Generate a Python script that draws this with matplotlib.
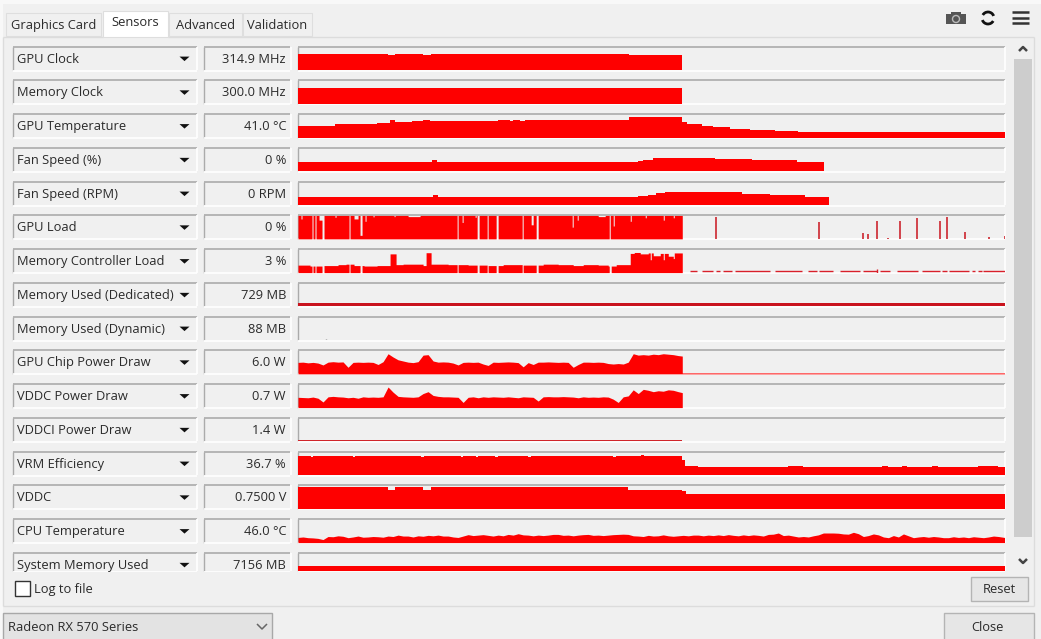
import numpy as np
import matplotlib
matplotlib.use("Agg")
import matplotlib.pyplot as plt
from matplotlib.patches import Rectangle, Polygon, Arc

plt.rcParams['font.family'] = ['Open Sans', 'DejaVu Sans']

# ---------- sensor names and readings ----------
sensor_names = ["GPU Clock", "Memory Clock", "GPU Temperature", "Fan Speed (%)", "Fan Speed (RPM)",
                "GPU Load", "Memory Controller Load", "Memory Used (Dedicated)", "Memory Used (Dynamic)",
                "GPU Chip Power Draw", "VDDC Power Draw", "VDDCI Power Draw", "VRM Efficiency", "VDDC",
                "CPU Temperature", "System Memory Used"]
sensor_values = ["314.9 MHz", "300.0 MHz", "41.0 °C", "0 %", "0 RPM", "0 %", "3 %", "729 MB", "88 MB",
                 "6.0 W", "0.7 W", "1.4 W", "36.7 %", "0.7500 V", "46.0 °C", "7156 MB"]
tab_names = ["Graphics Card", "Sensors", "Advanced", "Validation"]
device_name = "Radeon RX 570 Series"

# ---------- history series: time samples (t) and % of graph height (v) ----------
clock_t = [0, 90, 97, 125, 133, 331, 384]
clock_v = [68, 64, 68, 64, 68, 64, 64]
memclk_t = [0, 384]
memclk_v = [68, 68]
temp_t = [0, 37, 79, 92, 97, 114, 125, 132, 200, 212, 215, 222, 227, 331, 384, 389, 404, 415, 432, 452, 477, 500, 706]
temp_v = [49, 57, 64, 75, 66, 70, 76, 70, 76, 70, 76, 70, 76, 86, 66, 59, 51, 44, 38, 34, 28, 22, 22]
fanpct_t = [0, 134, 139, 340, 345, 355, 365, 417, 454, 499, 526]
fanpct_v = [40, 47, 40, 44, 48, 55, 58, 52, 48, 40, 40]
fanrpm_t = [0, 135, 140, 340, 350, 358, 367, 444, 472, 507, 531]
fanrpm_v = [35, 43, 35, 38, 43, 50, 56, 49, 42, 35, 35]
load_base_t = [0, 384]
load_base_v = [100, 100]
load_dip_start = [3, 14, 17, 21, 24, 37, 51, 56, 62, 67, 75, 96, 110, 159, 164, 177, 179, 189, 198, 224, 233, 238, 274, 279, 300, 311, 315, 332, 347, 365, 375]
load_dip_end = [4, 15, 18, 24, 26, 38, 52, 60, 64, 68, 76, 97, 122, 160, 165, 178, 181, 190, 200, 225, 235, 240, 275, 280, 307, 312, 316, 333, 348, 366, 376]
load_dip_v = [85, 0, 0, 80, 0, 92, 0, 85, 15, 75, 94, 95, 95, 0, 70, 92, 0, 0, 0, 0, 60, 0, 50, 80, 95, 0, 55, 75, 90, 80, 90]
load_spike_t = [418, 521, 565, 570, 579, 590, 602, 619, 642, 649, 667, 691, 706]
load_spike_v = [95, 72, 25, 22, 75, 5, 75, 90, 75, 95, 28, 6, 12]
mc_t = [0, 12, 26, 40, 48, 56, 66, 79, 92, 98, 105, 125, 128, 133, 150, 170, 190, 205, 225, 245, 260, 275, 285, 300, 310, 318, 332, 336, 342, 350, 355, 362, 370, 376, 384]
mc_v = [32, 28, 30, 34, 36, 30, 28, 30, 80, 34, 36, 30, 85, 36, 34, 32, 30, 34, 32, 36, 34, 30, 34, 32, 28, 34, 82, 86, 80, 84, 72, 82, 70, 84, 80]
mc_gap_start = [14, 17, 24, 51, 62, 159, 179, 189, 198, 224, 238, 311, 365, 352, 375]
mc_gap_end = [15, 18, 26, 52, 64, 160, 181, 190, 200, 225, 240, 313, 366, 353, 376]
mc_gap_v = [0, 0, 0, 0, 0, 0, 0, 0, 0, 0, 0, 0, 55, 55, 60]
mc_dash_start = [392, 404, 418, 425, 437, 477, 510, 521, 542, 565, 582, 599, 624, 644, 651, 674, 680, 685]
mc_dash_end = [399, 415, 422, 434, 472, 504, 519, 535, 562, 579, 592, 620, 642, 649, 671, 677, 684, 706]
mc_bump_t = [579]
mc_bump_v = [14]
mem_ded_t = [0, 706]
mem_ded_v = [15, 15]
mem_dyn_t = [27.5]
mem_dyn_v = [6]
chip_t = list(range(0, 385, 5)) + [384, 384, 706]
chip_v = [49, 50, 47, 49, 46, 38, 50, 52, 50, 51,
          28, 49, 50, 49, 50, 49, 40, 52, 86, 72,
          60, 55, 50, 48, 52, 80, 82, 55, 50, 51,
          50, 46, 38, 49, 50, 49, 50, 42, 36, 50,
          49, 50, 51, 50, 48, 30, 48, 40, 50, 50,
          51, 50, 49, 50, 49, 28, 40, 50, 50, 49,
          50, 49, 44, 42, 44, 42, 50, 86, 80, 82,
          80, 84, 82, 86, 84, 82, 78, 76, 4, 4]
vddc_pw_t = list(range(0, 385, 5)) + [384]
vddc_pw_v = [44, 43, 42, 45, 40, 24, 46, 48, 46, 45,
             42, 44, 40, 46, 44, 45, 44, 46, 88, 66,
             48, 46, 45, 44, 46, 60, 68, 52, 48, 46,
             46, 45, 44, 22, 44, 46, 42, 46, 44, 46,
             45, 44, 46, 44, 42, 46, 45, 44, 28, 46,
             47, 46, 46, 47, 46, 45, 42, 46, 44, 45,
             44, 46, 45, 36, 22, 46, 50, 76, 60, 78,
             74, 68, 72, 70, 76, 74, 68, 64]
vddci_t = [0, 384]
vddci_v = [4, 4]
vrm_t = [0, 13, 15, 55, 57, 123, 126, 163, 165, 178, 180, 197, 200, 230, 233, 315, 318, 343, 346, 384, 387, 392, 400, 445, 470, 490, 505, 584, 590, 604, 609, 634, 640, 660, 680, 700, 706]
vrm_v = [82, 76, 82, 78, 82, 76, 82, 76, 82, 76, 82, 76, 82, 76, 82, 76, 82, 85, 82, 64, 41, 38, 34, 36, 34, 37, 34, 38, 34, 38, 34, 37, 34, 36, 37, 36, 37]
vddc_t = [0, 90, 97, 125, 133, 330, 384, 388, 706]
vddc_v = [92, 80, 92, 82, 92, 80, 77, 63, 63]
cpu_t = list(range(0, 705, 5)) + [706]
cpu_v = [22, 24, 21, 20, 18, 13, 26, 25, 29, 27,
         21, 24, 28, 23, 24, 26, 25, 23, 28, 26,
         32, 28, 28, 24, 29, 27, 31, 29, 32, 28,
         28, 24, 22, 28, 34, 30, 32, 34, 31, 28,
         32, 29, 35, 32, 38, 33, 32, 29, 32, 30,
         32, 35, 35, 31, 32, 29, 32, 34, 35, 31,
         32, 30, 32, 34, 35, 36, 35, 29, 28, 26,
         31, 28, 29, 33, 29, 27, 29, 31, 29, 32,
         32, 29, 32, 30, 33, 30, 34, 31, 29, 33,
         30, 33, 31, 28, 35, 36, 41, 30, 32, 28,
         24, 26, 24, 29, 33, 41, 41, 41, 40, 37,
         36, 44, 38, 26, 30, 37, 33, 24, 21, 30,
         24, 37, 29, 21, 24, 26, 23, 26, 24, 21,
         21, 25, 22, 24, 21, 25, 23, 21, 24, 28, 26, 22]
sysmem_t = [0, 706]
sysmem_v = [21, 21]

RED = "#fe0000"
DARK = "#c9141e"
BG = "#f0f0f0"
INK = "#2a2a2a"
EDGE = "#ababab"
FS = 9.25

W, H = 1041, 639
fig = plt.figure(figsize=(W / 100, H / 100), dpi=100, facecolor=BG)
ui = fig.add_axes([0, 0, 1, 1], zorder=0)
ui.set_xlim(0, W)
ui.set_ylim(H, 0)
ui.axis("off")


def rect(x0, y0, x1, y1, fc="none", ec="none", lw=1.0, z=1):
    ui.add_patch(Rectangle((x0, y0), x1 - x0, y1 - y0, fc=fc, ec=ec, lw=lw, zorder=z))


def line(xs, ys, c=EDGE, lw=1.0, z=2):
    ui.plot(xs, ys, color=c, lw=lw, zorder=z, solid_capstyle="butt")


def sunken(x0, y0, x1, y1):
    line([x0, x1], [y0, y0], EDGE, 1.2)
    line([x0, x0], [y0, y1], EDGE, 1.0)
    line([x0, x1], [y1 + .6, y1 + .6], "white", 1.2)
    line([x1 + .6, x1 + .6], [y0, y1], "white", 1.2)


# window chrome
rect(0, 0, W, 4, fc="#f8f8f8")
rect(0, 4, 3, H, fc="#f8f8f8")
line([3, 3], [37, 606], "#dcdcdc")
line([3, 103], [36.5, 36.5], "#dcdcdc")
line([168, 1034], [36.5, 36.5], "#dcdcdc")
line([1034, 1034], [37, 606], "#dcdcdc")
line([3, 1034], [606, 606], "#dcdcdc")

# tabs
tab_left = [6, 103, 169, 243]
tab_right = [101, 168, 242, 312]
tab_top = [13, 11, 13, 13]
tab_text_y = [25.5, 23, 25.5, 25.5]
for name, x0, x1, t, ty in zip(tab_names, tab_left, tab_right, tab_top, tab_text_y):
    active = name == "Sensors"
    rect(x0, t, x1, 37 if active else 36, fc="white" if active else "#f0f0f0", ec="#dedede", lw=.8, z=3)
    ui.text((x0 + x1) / 2, ty, name, ha="center", va="center", fontsize=FS, color=INK, zorder=4)

ROW0, ROWSTEP, ROWH = 46.7, 33.75, 23.4
row_tops = [ROW0 + ROWSTEP * i for i in range(len(sensor_names))]
CLIPY = 571
graph_axes = []
for name, val, top in zip(sensor_names, sensor_values, row_tops):
    bot = min(top + ROWH, CLIPY)
    sunken(13, top, 196.5, bot)
    sunken(204, top, 290, bot)
    sunken(298, top, 1004.5, bot)
    cy = top + 12.4
    ui.text(17, cy, name, ha="left", va="center", fontsize=FS, color=INK, zorder=4)
    ui.text(286, cy, val, ha="right", va="center", fontsize=FS, color=INK, zorder=4)
    ui.add_patch(Polygon([[179.5, cy - 2.5], [189.5, cy - 2.5], [184.5, cy + 2]], fc="#111111", ec="none", zorder=4))
    ax = fig.add_axes([298 / W, 1 - bot / H, 706.5 / W, (bot - top) / H], zorder=2)
    ax.set_xlim(0, 706)
    ax.set_ylim(0, 100 * (bot - top) / ROWH)
    ax.axis("off")
    graph_axes.append(ax)

# clip strip below the last, cut-off row
rect(5, CLIPY + .6, 1012, 576, fc=BG, z=5)


def steps(ax, t, v, color=RED):
    ax.fill_between(t, 0, v, step="post", color=color, lw=0)


def jagged(ax, t, v, color=RED):
    ax.fill_between(t, 0, v, color=color, lw=0)


def carve(t, v, starts, ends, vals):
    grid = np.arange(0, t[-1] + .25, .25)
    idx = np.clip(np.searchsorted(t, grid, side="right") - 1, 0, len(v) - 1)
    y = np.array(v, dtype=float)[idx]
    for s, e, val in zip(starts, ends, vals):
        y[(grid >= s) & (grid < e)] = val
    return grid, y


g = graph_axes
steps(g[0], clock_t, clock_v)
steps(g[1], memclk_t, memclk_v)
steps(g[2], temp_t, temp_v)
steps(g[3], fanpct_t, fanpct_v)
steps(g[4], fanrpm_t, fanrpm_v)
steps(g[5], *carve(load_base_t, load_base_v, load_dip_start, load_dip_end, load_dip_v))
g[5].vlines(load_spike_t, 0, load_spike_v, color=DARK, lw=1.1)
steps(g[6], *carve(mc_t, mc_v, mc_gap_start, mc_gap_end, mc_gap_v))
g[6].hlines([5] * len(mc_dash_start), mc_dash_start, mc_dash_end, color="#d8202a", lw=1.0)
g[6].vlines(mc_bump_t, 0, mc_bump_v, color="#d8202a", lw=1.0)
steps(g[7], mem_ded_t, mem_ded_v, DARK)
g[8].vlines(mem_dyn_t, 0, mem_dyn_v, color="#888888", lw=1)
jagged(g[9], chip_t, chip_v)
jagged(g[10], vddc_pw_t, vddc_pw_v)
steps(g[11], vddci_t, vddci_v, "#d0252b")
steps(g[12], vrm_t, vrm_v)
steps(g[13], vddc_t, vddc_v)
jagged(g[14], cpu_t, cpu_v)
steps(g[15], sysmem_t, sysmem_v)

# scrollbar
rect(1014, 59, 1032, 537, fc="#cdcdcd")
line([1019, 1023, 1027], [51, 47, 51], "#444444", 1.8)
line([1019, 1023, 1027], [559, 563, 559], "#444444", 1.8)

# toolbar icons
rect(946, 13.5, 966, 24, fc="#555555", z=3)
rect(951, 11.5, 961, 14, fc="#555555", z=3)
ui.add_patch(Arc((956, 19), 7, 7, ec="#bbbbbb", lw=1, zorder=4))
ui.add_patch(Arc((988, 18), 12, 12, theta1=-150, theta2=-20, ec="#111111", lw=2, zorder=4))
ui.add_patch(Arc((988, 18), 12, 12, theta1=30, theta2=160, ec="#111111", lw=2, zorder=4))
for y in [12, 17.5, 23]:
    line([1012, 1029], [y, y], "#333333", 1.8)

# controls
rect(15, 581, 30, 596, fc="white", ec="#333333", lw=1, z=3)
ui.text(34, 590, "Log to file", ha="left", va="center", fontsize=FS, color=INK, zorder=4)
rect(971, 577, 1028, 601, fc="#e6e6e6", ec="#b4b4b4", z=3)
ui.text(999.5, 589.5, "Reset", ha="center", va="center", fontsize=FS, color=INK, zorder=4)
rect(944, 613, 1034, 643, fc="#e6e6e6", ec="#b4b4b4", z=3)
ui.text(987.5, 627.5, "Close", ha="center", va="center", fontsize=FS, color=INK, zorder=4)
rect(3, 613, 272, 643, fc="#e3e3e3", ec="#a8a8a8", z=3)
ui.text(8, 627.5, device_name, ha="left", va="center", fontsize=FS, color=INK, zorder=4)
line([257, 262, 267], [624, 629, 624], "#666666", 1.1, z=4)

fig.savefig("out.png", dpi=100, facecolor=BG)
